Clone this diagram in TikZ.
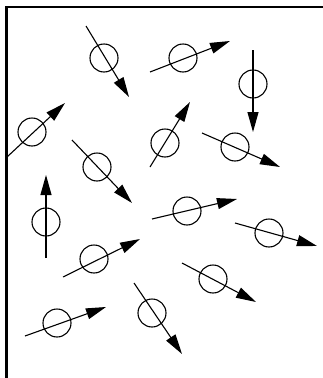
\documentclass[tikz,border=0pt]{standalone}
\usetikzlibrary{arrows.meta}
\begin{document}
\begin{tikzpicture}[x=1pt,y=-1pt,
  spin/.style={circle,draw,line width=1.1pt,minimum size=28pt,inner sep=0pt},
  vec/.style={line width=1.1pt,-{Triangle[length=20pt,width=11pt]}},
  frame/.style={line width=2.4pt}]
\useasboundingbox (0,0) rectangle (323,378);
\coordinate (fc) at (6.5,7);
\coordinate (fr) at (323,7);
\coordinate (fb) at (6.5,378);
\draw[frame] (fr) -- (fc) -- (fb);
% elements: center, tail, tip
\foreach \n/\cx/\cy/\tx/\ty/\hx/\hy in {
  A/104/58/86/26/129/97,
  E/183/58/150/72/230/41,
  F/253/84/253/50/253/132,
  B/32/132/7/157/65/103,
  H/165/143/150/167/190/102,
  G/235/147/202/133/280/167,
  C/97/167/72/140/132/203,
  I/46/222/46/258/46/175,
  M/187/211/152/219/237/199,
  N/269/233/235/223/317/246,
  J/94/259/63/277/140/239,
  O/213/279/182/263/256/302,
  K/57/323/25/336/106/307,
  L/152/313/134/283/182/354}{
  \node[spin] (\n) at (\cx,\cy) {};
  \coordinate (\n t) at (\tx,\ty);
  \coordinate (\n h) at (\hx,\hy);
  \draw[vec] (\n t) -- (\n h);
}
\end{tikzpicture}
\end{document}
